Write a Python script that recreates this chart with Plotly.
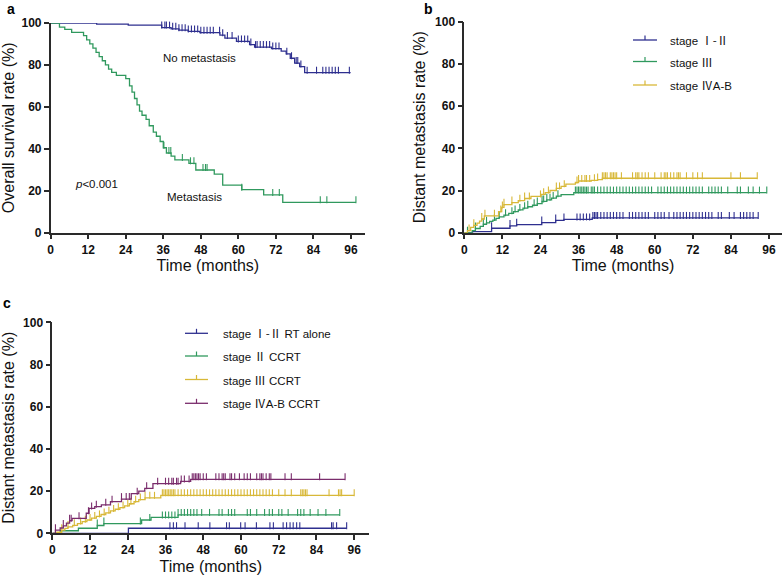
import numpy as np
import plotly.graph_objects as go

W, H = 783, 578

# ---------------- data ----------------
time_ticks = [0, 12, 24, 36, 48, 60, 72, 84, 96]
rate_ticks = [0, 20, 40, 60, 80, 100]

# Panel a: overall survival
a_nomet_t = [0, 14.7, 24.8, 35.5, 38.5, 41, 44, 47.7, 54.1, 55.7, 59.4, 63.6, 65.2, 70.6, 73.7, 75.3, 76.6, 78, 79.6, 81.2]
a_nomet_v = [100, 99.5, 99, 97.8, 97.2, 96.6, 96.0, 95.4, 94.2, 92.8, 91.2, 89.7, 88.5, 87.8, 86.6, 85.3, 83.2, 80.9, 79.2, 76.3]
a_nomet_end = 95.9
a_nomet_cens = [7.2, 8.3, 8.8, 12, 12.6, 13.1, 14.7, 17.9, 26.9, 28.5, 30.7, 32.8, 35.5, 36.5, 37, 38, 39, 40,
                41, 42, 43, 44, 45, 46, 47, 48, 49, 50, 51, 52, 54, 55, 56.5, 58, 60, 61, 62, 63, 64, 65.5,
                66, 67, 68, 69, 70, 71, 72, 73, 75.5, 77, 78.5, 79, 80, 82, 85, 87, 88, 89, 90, 91, 92, 95.5]

a_met_t = [0, 2.8, 4.5, 6.7, 10.5, 11.5, 12.5, 13.5, 14.5, 15.5, 16.5, 17.5, 18.5, 19.5, 21, 24, 25.2, 26,
           26.8, 27.6, 28.4, 29.2, 30.5, 31.5, 32.8, 33.8, 35, 36, 37, 38.5, 39.7, 44.2, 46.4, 52.3, 55, 61.1, 68.1, 74.2]
a_met_v = [100, 98, 97, 95.5, 94, 92, 90, 88, 86, 84, 82, 80, 78, 76.5, 75, 73.5, 70, 67,
           64, 61, 58, 56, 54, 51, 48, 46, 43.5, 40.5, 38, 36.5, 34.7, 33.1, 29.9, 27.9, 22.7, 20.5, 18, 14.5]
a_met_end = 97.6
a_met_cens = [36.2, 37.8, 38.4, 42.1, 44.7, 45.8, 48.7, 49.5, 50, 61.1, 71, 73.1, 86.2, 88.3, 97.6]

# Panel b: distant metastasis by stage
b_s12_t = [0, 2.6, 8.6, 14.4, 16.5, 24.4, 28.8, 31.4, 40.3]
b_s12_v = [0, 0.5, 2.1, 3.2, 3.8, 4.8, 5.8, 6.3, 7.0]
b_s12_end = 92.6
b_s12_cens = [8.6, 14.4, 16.5, 24.4, 28.8, 31.4, 35.5, 36.5, 37.5, 38.5, 39.5, 40.5, 41, 41.5, 42, 43, 44, 45,
              46, 47, 48, 49, 50, 52, 53, 54, 55, 56, 57, 58, 60, 61, 62, 63, 64.5, 66, 67, 68, 69, 70, 71,
              72, 73, 74, 75, 76, 77, 78, 80, 81, 83.5, 85, 87, 88, 89, 90, 91, 92.6]

b_s3_t = [0, 2.5, 3.5, 5, 6, 7, 8, 9, 10, 11, 12.5, 14, 15.5, 17, 18.5, 20, 21.5, 23, 24.5, 26, 27.5, 29, 30.5, 34.5]
b_s3_v = [0, 1, 2, 3, 4, 4.7, 5.4, 6, 6.8, 7.5, 8.3, 9.2, 10, 10.8, 11.6, 12.3, 13, 13.8, 14.8, 15.6, 16.4, 17.3, 18, 19]
b_s3_end = 95.3
b_s3_cens = [1, 3.5, 6, 7, 9.5, 11, 13, 15, 16, 17.5, 19, 20, 22, 23, 24.5, 25, 26, 27, 28, 29.5, 35, 35.5, 36,
             36.5, 37, 37.5, 38, 38.5, 39, 40, 40.5, 41, 42, 43, 44, 45, 46, 47, 48, 49, 50, 51, 52, 53, 54,
             55, 56, 57, 58, 59, 61, 62, 63, 64, 65, 66, 67, 68, 69, 70, 71, 72, 73, 74, 75, 77, 78, 79, 80,
             81, 83, 86, 87, 89.5, 91, 93, 95.3]

b_s4_t = [0, 1, 2, 3, 4, 4.8, 5.5, 6.3, 10.8, 11.8, 12.5, 15, 17, 19, 21, 24.2, 25.5, 27, 29, 30.5, 32, 35, 36, 40, 42, 43.5]
b_s4_v = [0, 1, 2.5, 3.5, 4.5, 5.5, 6.5, 8, 10, 12, 13.3, 14.3, 15.2, 16.2, 17.2, 18.2, 19, 20, 21, 22, 23, 23.8, 24.5, 24.8, 25.2, 25.8]
b_s4_end = 92.3
b_s4_cens = [1.5, 3, 5.5, 6.5, 9.5, 11.5, 12, 12.5, 15, 17.5, 19, 20.5, 24, 25, 26.5, 29, 30, 31.5, 35.5, 36,
             37, 38, 38.5, 39.5, 41, 42, 43.5, 44, 44.5, 45, 46, 46.5, 47, 47.5, 48, 49.5, 53, 54, 54.5, 55,
             56, 57, 58, 60, 62, 63, 63.5, 64, 65, 66, 67, 67.5, 68, 70, 72, 73.5, 75, 84, 87, 92.3]

# Panel c: distant metastasis by stage and treatment
c_rt_t = [0, 24.2]
c_rt_v = [0, 2.4]
c_rt_end = 93.6
c_rt_cens = [37.4, 38.5, 39.5, 42.2, 46.4, 50.1, 55.4, 56.3, 59.9, 61.3, 64.9, 69.2, 70.3, 73.4, 74.5, 75.6,
             76.6, 77.7, 78.7, 88.8, 89.3, 90.4, 93.6]

c_s2_t = [0, 2.5, 8.3, 14.3, 16.4, 28.4, 31.4, 40]
c_s2_v = [0, 1.2, 2.4, 3.7, 4.6, 6.3, 7.5, 8.7]
c_s2_end = 91.4
c_s2_cens = [14.3, 16.4, 28, 31, 35, 36, 37, 38, 39, 40, 41, 42, 43, 44, 45, 46, 47.5, 50, 53, 54, 56, 57, 58,
             62, 63, 65, 67.5, 69, 70, 72, 73, 75, 78, 79, 80, 82, 84.5, 87, 91.4]

c_s3_t = [0, 1.5, 3, 4, 5, 6.5, 8, 9.5, 11, 12.5, 14, 15.5, 17, 18.5, 20, 21.5, 23, 24.5, 26, 27.5, 29.5, 34.5]
c_s3_v = [0, 0.5, 1.5, 2.3, 3.0, 3.8, 4.6, 5.5, 6.3, 7.2, 8.0, 8.9, 9.7, 10.6, 11.4, 12.2, 13.0, 14.0, 15.0, 16.0, 16.8, 18.0]
c_s3_end = 96
c_s3_cens = [3, 5, 7, 9, 10.5, 12, 13.5, 15, 16.5, 18, 19.5, 21, 22.5, 24, 25, 26.5, 28, 29.5, 31, 32.5, 35,
             35.5, 36, 36.5, 37, 37.5, 38, 38.5, 39, 40, 41, 42, 43, 44, 45, 46, 47, 48, 49, 50, 51, 52, 53,
             54, 55, 56, 57, 58, 59, 60, 61, 62, 63, 64, 65, 66, 67, 68, 69, 70, 72, 74, 76, 79, 79.5, 80,
             80.5, 81, 88, 91, 91.5, 92, 96]

c_s4_t = [0, 1, 2.5, 3.5, 4.5, 5.5, 6.3, 10.8, 11.7, 13.5, 15.6, 18.5, 22, 25.1, 27.5, 29.4, 32, 40.8, 44]
c_s4_v = [0, 1.5, 2.5, 3.5, 4.8, 6, 7.1, 9.5, 11.8, 12.6, 13.5, 15, 16.2, 18.8, 20, 21.3, 23.5, 24.6, 25.6]
c_s4_end = 93.1
c_s4_cens = [1, 3.5, 5.5, 6, 8.5, 11.5, 12.5, 14, 17, 19, 22, 23.5, 24.5, 27, 30, 33.5, 36, 37, 38, 38.5, 39.5,
             40, 41, 42, 43.5, 44.5, 45, 45.5, 46, 46.5, 47, 48, 49, 52, 53, 54, 54.5, 55, 56.5, 57, 58, 59.5,
             61, 62, 63, 65, 66, 66.5, 67, 68, 69, 69.5, 74, 76, 85, 93.1]

# legend labels: (prefix, roman numeral part, suffix)
legend_b = [("stage ", "Ⅰ-Ⅱ", ""), ("stage ", "Ⅲ", ""), ("stage ", "Ⅳ", "A-B")]
legend_c = [("stage ", "Ⅰ-Ⅱ", " RT alone"), ("stage ", "Ⅱ", " CCRT"), ("stage ", "Ⅲ", " CCRT"),
            ("stage ", "Ⅳ", "A-B CCRT")]

# ---------------- style ----------------
NAVY = "#2e2f8f"
GREEN = "#30995e"
YELLOW = "#d8b838"
PURPLE = "#7a2c6c"
AXC = "#2a2a2a"
FONT = "Liberation Sans, Arial, sans-serif"
CJK = "Noto Sans CJK SC"

# panel geometry in pixels
panels = {
    "a": dict(x0=50.7, x1=365.0, yb=232.7, yt=23.0, xr=100.5, xa="x", ya="y"),
    "b": dict(x0=464.3, x1=781.7, yb=232.7, yt=21.7, xr=100.0, xa="x2", ya="y2"),
    "c": dict(x0=52.3, x1=369.3, yb=533.3, yt=322.3, xr=100.8, xa="x3", ya="y3"),
}


def fx(p):
    return p / W


def fy(p):
    return 1 - p / H


fig = go.Figure()


def add_km(panel, t, v, end, cens, color):
    g = panels[panel]
    ppu = (g["yb"] - g["yt"]) / 100.0
    t = np.asarray(t, float)
    v = np.asarray(v, float)
    xs = np.append(t, end)
    ys = np.append(v, v[-1])
    fig.add_trace(go.Scatter(x=xs, y=ys, mode="lines", line=dict(color=color, width=1.3, shape="hv"),
                             xaxis=g["xa"], yaxis=g["ya"], showlegend=False, cliponaxis=False,
                             hoverinfo="skip"))
    c = np.asarray(cens, float)
    idx = np.searchsorted(t, c, side="right") - 1
    cy = v[idx] + 2.5 / ppu
    fig.add_trace(go.Scatter(x=c, y=cy, mode="markers",
                             marker=dict(symbol="line-ns", size=5, line=dict(color=color, width=1.1)),
                             xaxis=g["xa"], yaxis=g["ya"], showlegend=False, cliponaxis=False,
                             hoverinfo="skip"))


add_km("a", a_nomet_t, a_nomet_v, a_nomet_end, a_nomet_cens, NAVY)
add_km("a", a_met_t, a_met_v, a_met_end, a_met_cens, GREEN)

add_km("b", b_s12_t, b_s12_v, b_s12_end, b_s12_cens, NAVY)
add_km("b", b_s3_t, b_s3_v, b_s3_end, b_s3_cens, GREEN)
add_km("b", b_s4_t, b_s4_v, b_s4_end, b_s4_cens, YELLOW)

add_km("c", c_rt_t, c_rt_v, c_rt_end, c_rt_cens, NAVY)
add_km("c", c_s2_t, c_s2_v, c_s2_end, c_s2_cens, GREEN)
add_km("c", c_s3_t, c_s3_v, c_s3_end, c_s3_cens, YELLOW)
add_km("c", c_s4_t, c_s4_v, c_s4_end, c_s4_cens, PURPLE)

layout = dict(
    width=W, height=H, margin=dict(l=0, r=0, t=0, b=0, autoexpand=False),
    paper_bgcolor="white", plot_bgcolor="white",
    font=dict(family=FONT, color=AXC), showlegend=False,
)

ytitles = {"a": "Overall survival rate (%)", "b": "Distant metastasis rate (%)", "c": "Distant metastasis rate (%)"}
for i, (k, g) in enumerate(panels.items()):
    sx = "xaxis" if i == 0 else f"xaxis{i+1}"
    sy = "yaxis" if i == 0 else f"yaxis{i+1}"
    common = dict(showline=True, linecolor=AXC, linewidth=1.5, ticks="outside", ticklen=5, tickwidth=1.5,
                  tickcolor=AXC, showgrid=False, zeroline=False, automargin=False,
                  tickfont=dict(family=FONT, size=12, weight="bold", color="#111111"))
    layout[sx] = dict(domain=[fx(g["x0"]), fx(g["x1"])], range=[0, g["xr"]], tickvals=time_ticks,
                      anchor=g["ya"],
                      title=dict(text="Time (months)",
                                 font=dict(family=FONT, size=16, weight="normal", color="#111111"), standoff=4),
                      **common)
    layout[sy] = dict(domain=[fy(g["yb"]), fy(g["yt"])], range=[0, 100], tickvals=rate_ticks,
                      anchor=g["xa"],
                      title=dict(text=ytitles[k],
                                 font=dict(family=FONT, size=16, weight="normal", color="#111111"), standoff=6),
                      **common)

fig.update_layout(**layout)

# panel letters (box top at given y)
for letter, (px, py) in {"a": (11, 0), "b": (429, 0), "c": (7.5, 294)}.items():
    fig.add_annotation(x=fx(px), y=fy(py), xref="paper", yref="paper", text=f"<b>{letter}</b>",
                       showarrow=False, font=dict(family=FONT, size=14, color="#000000"),
                       xanchor="center", yanchor="top", borderpad=0)

# text labels in panel a
for txt, (px, py) in {"No metastasis": (199.3, 57.7), "Metastasis": (194.3, 196.7),
                      "<i>p</i><0.001": (96.7, 184)}.items():
    fig.add_annotation(x=fx(px), y=fy(py), xref="paper", yref="paper", text=txt, showarrow=False,
                       font=dict(family=FONT, size=11.5, color="#111111"), xanchor="center", yanchor="middle")


# manual legends
def draw_legend(labels, colors, lx0, lx1, tx, ys):
    for (pre, rom, suf), col, y in zip(labels, colors, ys):
        fig.add_shape(type="line", xref="paper", yref="paper", x0=fx(lx0), x1=fx(lx1), y0=fy(y), y1=fy(y),
                      line=dict(color=col, width=1.3))
        xm = (lx0 + lx1) / 2
        fig.add_shape(type="line", xref="paper", yref="paper", x0=fx(xm), x1=fx(xm), y0=fy(y), y1=fy(y - 4.5),
                      line=dict(color=col, width=1.2))
        txt = f"{pre}<span style=\"font-family:'{CJK}'\">{rom}</span>{suf}"
        fig.add_annotation(x=fx(tx), y=fy(y), xref="paper", yref="paper", text=txt, showarrow=False,
                           font=dict(family=FONT, size=11.5, color="#111111"), xanchor="left", yanchor="middle")


draw_legend(legend_b, [NAVY, GREEN, YELLOW], 633, 657, 668, [40, 61.5, 85])
draw_legend(legend_c, [NAVY, GREEN, YELLOW, PURPLE], 185, 208, 221, [333.3, 356, 379.5, 403.3])

fig.write_html("out.html", config={"displayModeBar": False},
               post_script="document.body.style.margin='0';document.body.style.overflow='hidden';")
